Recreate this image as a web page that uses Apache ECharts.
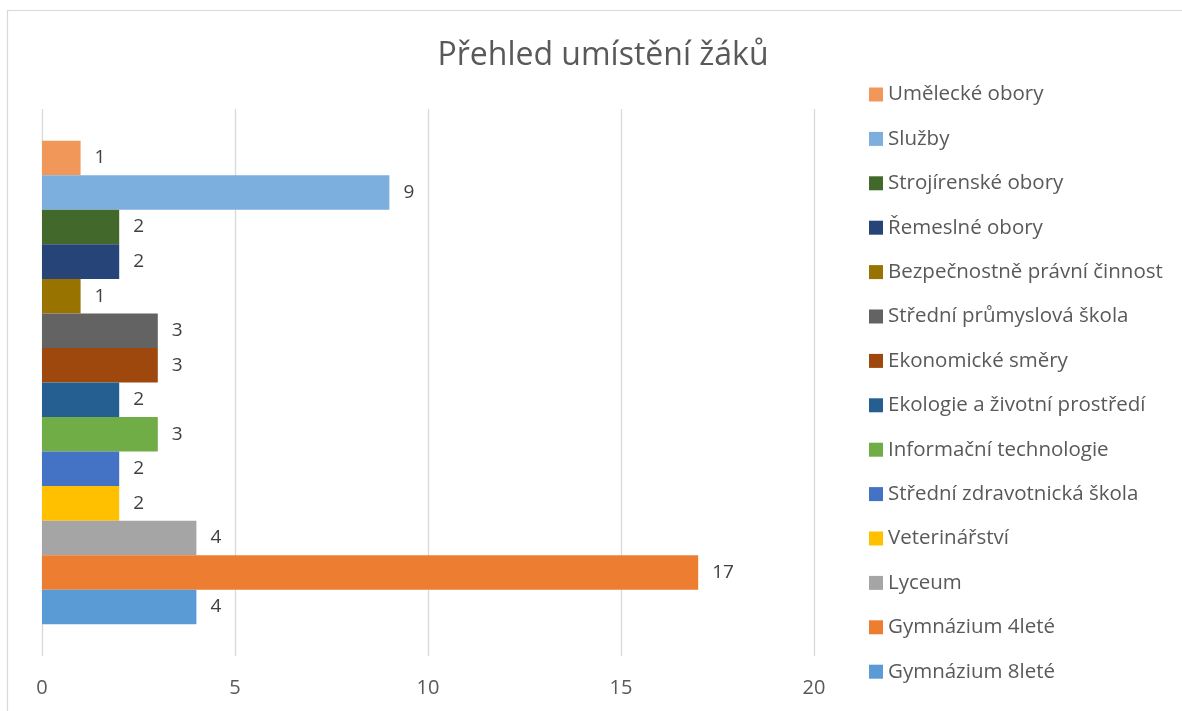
<!DOCTYPE html>
<html>
<head>
<meta charset="utf-8">
<script src="https://cdn.jsdelivr.net/npm/echarts@6/dist/echarts.min.js"></script>
<style>html,body{margin:0;padding:0;background:#fff}#c{width:1182px;height:711px}</style>
</head>
<body>
<div id="c"></div>
<script>
// Series listed top-to-bottom as drawn in the plot (same order as legend)
const seriesNames = ["Umělecké obory","Služby","Strojírenské obory","Řemeslné obory","Bezpečnostně právní činnost","Střední průmyslová škola","Ekonomické směry","Ekologie a životní prostředí","Informační technologie","Střední zdravotnická škola","Veterinářství","Lyceum","Gymnázium 4leté","Gymnázium 8leté"];
const seriesValues = [1,9,2,2,1,3,3,2,3,2,2,4,17,4];
const seriesColors = ["#f1975a","#7cafdd","#43682b","#264478","#997300","#636363","#9e480e","#255e91","#70ad47","#4472c4","#ffc000","#a5a5a5","#ed7d31","#5b9bd5"];
const xTicks = [0,5,10,15,20];
const titleText = "Přehled umístění žáků";

const FONT = "'Open Sans', sans-serif";
const chart = echarts.init(document.getElementById('c'), null, {renderer:'canvas'});
const series = seriesNames.map((n,i)=>({
  name:n, type:'bar', data:[seriesValues[i]],
  itemStyle:{color:seriesColors[i]},
  barGap:'0%', barCategoryGap:'11.6%',
  label:{show:true, position:'right', distance:14, color:'#404040', fontSize:19, fontFamily:FONT},
  animation:false
}));
chart.setOption({
  animation:false,
  backgroundColor:'#fff',
  title:{text:titleText, left:598, top:35, textAlign:'center',
    textStyle:{fontFamily:FONT, fontSize:32, fontWeight:'normal', color:'#595959'}},
  legend:{orient:'vertical', left:864, top:79, padding:5, itemWidth:14, itemHeight:14, itemGap:23.4,
    icon:'rect', data:seriesNames,
    textStyle:{fontFamily:FONT, fontSize:20.5, color:'#595959', lineHeight:20}},
  grid:{left:42, right:368, top:109, bottom:55, containLabel:false},
  xAxis:{type:'value', min:xTicks[0], max:xTicks[xTicks.length-1], interval:5,
    axisLine:{show:false}, axisTick:{show:false},
    splitLine:{show:true, lineStyle:{color:'#d9d9d9', width:1.3}},
    axisLabel:{fontFamily:FONT, fontSize:20, color:'#595959', margin:22}},
  yAxis:{type:'category', data:[''], axisLine:{show:false}, axisTick:{show:false}, axisLabel:{show:false}},
  graphic:[{type:'rect', shape:{x:7.5, y:10.5, width:1400, height:900}, style:{fill:'none', stroke:'#d9d9d9', lineWidth:1.2}, silent:true}],
  series:series
});
</script>
</body>
</html>
